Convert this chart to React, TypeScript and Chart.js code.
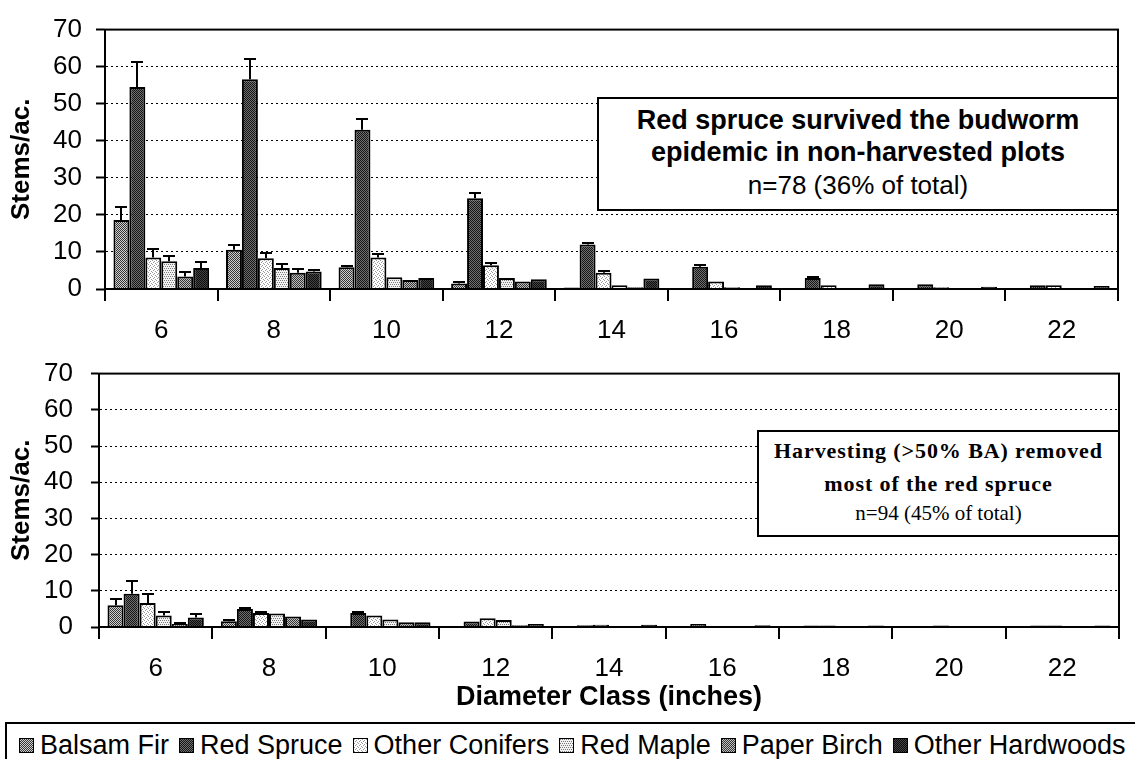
import React, { useEffect, useRef } from 'react';
import { Chart, registerables } from 'chart.js';

Chart.register(...registerables);

// ---------- DATA ----------
const categories = ['6', '8', '10', '12', '14', '16', '18', '20', '22'];
const speciesNames = ['Balsam Fir', 'Red Spruce', 'Other Conifers', 'Red Maple', 'Paper Birch', 'Other Hardwoods'];
const yTickValues = [0, 10, 20, 30, 40, 50, 60, 70];

// Non-harvested plots (stems/ac.)
const nhBalsamFir = [18.6, 10.6, 5.9, 1.5, 0.4, 0.3, 0.3, 0.2, 0.2];
const nhRedSpruce = [54.5, 56.6, 43.0, 24.5, 12.0, 6.0, 3.0, 1.3, 1.0];
const nhOtherConifers = [8.5, 8.3, 8.5, 6.4, 4.4, 2.0, 1.0, 0.5, 1.0];
const nhRedMaple = [7.5, 5.7, 3.2, 3.0, 1.0, 0.5, 0.3, 0.3, 0.2];
const nhPaperBirch = [3.4, 4.4, 2.4, 2.0, 0.5, 0.3, 0.2, 0.2, 0.2];
const nhOtherHardwoods = [5.7, 4.7, 3.0, 2.6, 2.8, 1.0, 1.3, 0.6, 0.8];

const nhBalsamFirErr = [3.6, 1.3, 0.3, 0.3, 0, 0, 0, 0, 0];
const nhRedSpruceErr = [6.7, 5.4, 3.0, 1.5, 0.4, 0.5, 0.3, 0, 0];
const nhOtherConifersErr = [2.4, 1.3, 0.9, 0.5, 0.5, 0, 0, 0, 0];
const nhRedMapleErr = [1.5, 1.0, 0, 0, 0, 0, 0, 0, 0];
const nhPaperBirchErr = [1.3, 1.0, 0, 0, 0, 0, 0, 0, 0];
const nhOtherHardwoodsErr = [1.5, 0.3, 0, 0, 0, 0, 0, 0, 0];

// Harvested plots (stems/ac.)
const hBalsamFir = [6.0, 1.6, 0.3, 0.3, 0.2, 0.2, 0.1, 0.1, 0.1];
const hRedSpruce = [9.2, 5.0, 3.9, 1.5, 0.5, 0.8, 0.4, 0.3, 0.4];
const hOtherConifers = [6.6, 3.9, 3.2, 2.4, 0.6, 0.3, 0.4, 0.4, 0.4];
const hRedMaple = [3.2, 3.7, 2.1, 1.9, 0.3, 0.2, 0.1, 0.1, 0.1];
const hPaperBirch = [0.8, 2.9, 1.3, 0.5, 0.2, 0.1, 0.1, 0.1, 0.1];
const hOtherHardwoods = [2.6, 2.1, 1.3, 0.8, 0.6, 0.5, 0.4, 0.3, 0.4];

const hBalsamFirErr = [1.6, 0.2, 0, 0, 0, 0, 0, 0, 0];
const hRedSpruceErr = [3.4, 0.3, 0.2, 0, 0, 0, 0, 0, 0];
const hOtherConifersErr = [2.6, 0.2, 0, 0, 0, 0, 0, 0, 0];
const hRedMapleErr = [1.0, 0, 0, 0, 0, 0, 0, 0, 0];
const hPaperBirchErr = [0.2, 0, 0, 0, 0, 0, 0, 0, 0];
const hOtherHardwoodsErr = [1.1, 0, 0, 0, 0, 0, 0, 0, 0];

const nhValues = [nhBalsamFir, nhRedSpruce, nhOtherConifers, nhRedMaple, nhPaperBirch, nhOtherHardwoods];
const nhErrors = [nhBalsamFirErr, nhRedSpruceErr, nhOtherConifersErr, nhRedMapleErr, nhPaperBirchErr, nhOtherHardwoodsErr];
const hValues = [hBalsamFir, hRedSpruce, hOtherConifers, hRedMaple, hPaperBirch, hOtherHardwoods];
const hErrors = [hBalsamFirErr, hRedSpruceErr, hOtherConifersErr, hRedMapleErr, hPaperBirchErr, hOtherHardwoodsErr];

// ---------- STYLE ----------
const SANS = '"Liberation Sans", Arial, Helvetica, sans-serif';
const SERIF = '"Liberation Serif", "Times New Roman", serif';

// stipple patterns: [base colour, dot colour, dot mask (4x4)]
const patternSpecs: [string, string, number[]][] = [
  ['#d0d0d0', '#353535', [1,0,1,0, 0,1,0,1, 1,0,1,0, 0,1,0,1]], // Balsam Fir
  ['#707070', '#151515', [1,0,1,0, 0,1,0,1, 1,0,1,0, 0,1,0,1]], // Red Spruce
  ['#ffffff', '#9a9a9a', [1,0,0,0, 0,0,1,0, 0,1,0,0, 0,0,0,1]], // Other Conifers
  ['#f2f2f2', '#7a7a7a', [1,0,1,0, 0,0,0,0, 0,1,0,1, 0,0,0,0]], // Red Maple
  ['#c0c0c0', '#353535', [1,0,1,0, 0,1,0,1, 1,0,1,0, 0,1,0,1]], // Paper Birch
  ['#444444', '#0c0c0c', [1,0,1,0, 0,1,0,1, 1,0,1,0, 0,1,0,1]], // Other Hardwoods
];

function makeTile(spec: [string, string, number[]]): HTMLCanvasElement {
  const c = document.createElement('canvas');
  c.width = 4;
  c.height = 4;
  const ctx = c.getContext('2d')!;
  ctx.fillStyle = spec[0];
  ctx.fillRect(0, 0, 4, 4);
  ctx.fillStyle = spec[1];
  spec[2].forEach((m, i) => {
    if (m) ctx.fillRect(i % 4, Math.floor(i / 4), 1, 1);
  });
  return c;
}

const tiles = patternSpecs.map(makeTile);
const tileUrls = tiles.map((t) => t.toDataURL());

function patterns(ctx: CanvasRenderingContext2D) {
  return tiles.map((t) => ctx.createPattern(t, 'repeat') as CanvasPattern);
}

const errorBarsAndFrame = {
  id: 'errorBarsAndFrame',
  afterDatasetsDraw(chart: any, _args: any, opts: any) {
    const errs: number[][] = opts.errors || [];
    const ctx: CanvasRenderingContext2D = chart.ctx;
    const y = chart.scales.y;
    ctx.save();
    ctx.strokeStyle = '#000';
    ctx.lineWidth = 2;
    chart.data.datasets.forEach((ds: any, i: number) => {
      const meta = chart.getDatasetMeta(i);
      meta.data.forEach((bar: any, j: number) => {
        const e = errs[i] ? errs[i][j] : 0;
        if (!e) return;
        const v = ds.data[j] as number;
        const yTop = Math.round(y.getPixelForValue(v + e));
        const x = Math.round(bar.x);
        ctx.beginPath();
        ctx.moveTo(x, bar.y);
        ctx.lineTo(x, yTop);
        ctx.moveTo(x - 6, yTop);
        ctx.lineTo(x + 6, yTop);
        ctx.stroke();
      });
    });
    const a = chart.chartArea;
    ctx.lineWidth = 2;
    ctx.strokeRect(a.left, a.top, a.right - a.left, a.bottom - a.top);
    ctx.restore();
  },
};

type PanelProps = {
  top: number;
  height: number;
  areaTop: number; // page coords
  areaLeft: number;
  areaRight: number;
  areaBottom: number;
  values: number[][];
  errors: number[][];
  xTitle?: string;
  yTickPad: number;
  yTickLen: number;
};

function Panel(p: PanelProps) {
  const ref = useRef<HTMLCanvasElement | null>(null);
  useEffect(() => {
    const canvas = ref.current!;
    const ctx = canvas.getContext('2d')!;
    const pats = patterns(ctx);
    const aTop = p.areaTop - p.top;
    const aBottom = p.areaBottom - p.top;
    const chart = new Chart(canvas, {
      type: 'bar',
      data: {
        labels: categories,
        datasets: p.values.map((vals, i) => ({
          label: speciesNames[i],
          data: vals,
          backgroundColor: pats[i],
          borderColor: '#000',
          borderWidth: 2,
          categoryPercentage: 0.85,
          barPercentage: 1.0,
        })),
      },
      options: {
        responsive: false,
        animation: false,
        events: [],
        layout: { padding: { top: aTop, left: 0, right: 1135 - p.areaRight, bottom: 0 } },
        plugins: {
          legend: { display: false },
          tooltip: { enabled: false },
          errorBarsAndFrame: { errors: p.errors },
        } as any,
        scales: {
          x: {
            type: 'category',
            offset: true,
            grid: {
              display: true,
              drawOnChartArea: false,
              drawTicks: true,
              tickLength: 12,
              offset: true,
              color: '#000',
              lineWidth: 2,
            },
            border: { display: true, color: '#000', width: 2 },
            ticks: {
              color: '#000',
              padding: 14,
              font: { family: SANS, size: 26 },
              maxRotation: 0,
            },
            title: p.xTitle
              ? {
                  display: true,
                  text: p.xTitle,
                  color: '#000',
                  font: { family: SANS, size: 27, weight: 'bold' },
                  padding: { top: 0, bottom: 6 },
                }
              : { display: false },
            afterFit: (s: any) => {
              s.height = p.height - aBottom;
            },
          },
          y: {
            type: 'linear',
            min: 0,
            max: 70,
            afterBuildTicks: (s: any) => {
              s.ticks = yTickValues.map((v) => ({ value: v }));
            },
            grid: {
              color: '#000',
              lineWidth: 1,
              drawTicks: true,
              tickLength: p.yTickLen,
              tickWidth: 2,
              tickBorderDash: [],
            },
            border: { display: true, color: '#000', width: 2, dash: [2, 3] },
            ticks: {
              color: '#000',
              padding: p.yTickPad,
              font: { family: SANS, size: 26 },
            },
            title: {
              display: true,
              text: 'Stems/ac.',
              color: '#000',
              font: { family: SANS, size: 26, weight: 'bold' },
              padding: { top: 6, bottom: 0 },
            },
            afterFit: (s: any) => {
              s.width = p.areaLeft;
            },
          },
        },
      } as any,
      plugins: [errorBarsAndFrame as any],
    });
    return () => chart.destroy();
  }, []);
  return (
    <canvas
      ref={ref}
      width={1135}
      height={p.height}
      style={{ position: 'absolute', left: 0, top: p.top, width: 1135, height: p.height }}
    />
  );
}

const lineStyle = (top: number, size: number, bold: boolean, spacing = 0): React.CSSProperties => ({
  position: 'absolute',
  left: 0,
  right: 0,
  top,
  fontSize: size,
  lineHeight: `${size}px`,
  fontWeight: bold ? 'bold' : 'normal',
  letterSpacing: spacing,
  whiteSpace: 'nowrap',
});

export default function App() {
  return (
    <div
      style={{
        position: 'fixed',
        left: 0,
        top: 0,
        width: 1135,
        height: 759,
        overflow: 'hidden',
        background: '#fff',
      }}
    >
      <Panel
        top={0}
        height={350}
        areaTop={20}
        areaLeft={105}
        areaRight={1118}
        areaBottom={289}
        values={nhValues}
        errors={nhErrors}
        yTickPad={14}
        yTickLen={9}
      />
      <Panel
        top={340}
        height={380}
        areaTop={367}
        areaLeft={99}
        areaRight={1119}
        areaBottom={627}
        values={hValues}
        errors={hErrors}
        xTitle="Diameter Class (inches)"
        yTickPad={18}
        yTickLen={8}
      />
      {/* annotation: non-harvested */}
      <div
        style={{
          position: 'absolute',
          left: 597,
          top: 97,
          width: 522,
          height: 114,
          boxSizing: 'border-box',
          border: '2px solid #000',
          background: '#fff',
          fontFamily: SANS,
          color: '#000',
          textAlign: 'center',
        }}
      >
        <div style={lineStyle(8, 27, true)}>Red spruce survived the budworm</div>
        <div style={lineStyle(40, 27, true)}>epidemic in non-harvested plots</div>
        <div style={lineStyle(73, 26, false)}>n=78 (36% of total)</div>
      </div>
      {/* annotation: harvested */}
      <div
        style={{
          position: 'absolute',
          left: 757,
          top: 430,
          width: 363,
          height: 107,
          boxSizing: 'border-box',
          border: '2px solid #000',
          background: '#fff',
          fontFamily: SERIF,
          color: '#000',
          textAlign: 'center',
        }}
      >
        <div style={lineStyle(8, 22, true, 0.9)}>Harvesting (&gt;50% BA) removed</div>
        <div style={lineStyle(41, 22, true, 0.9)}>most of the red spruce</div>
        <div style={lineStyle(71, 21, false)}>n=94 (45% of total)</div>
      </div>
      {/* legend */}
      <div
        style={{
          position: 'absolute',
          left: 5,
          top: 722,
          width: 1150,
          height: 60,
          boxSizing: 'border-box',
          border: '2px solid #000',
          background: '#fff',
          fontFamily: SANS,
          fontSize: 27,
          color: '#000',
          display: 'flex',
          alignItems: 'flex-start',
          paddingLeft: 12,
          paddingTop: 7,
          whiteSpace: 'nowrap',
        }}
      >
        {speciesNames.map((n, i) => (
          <div key={n} style={{ display: 'flex', alignItems: 'center', marginRight: 10, lineHeight: '28px' }}>
            <span
              style={{
                display: 'inline-block',
                width: 15,
                height: 15,
                boxSizing: 'border-box',
                border: '1.5px solid #000',
                backgroundImage: `url(${tileUrls[i]})`,
                marginRight: 6,
              }}
            />
            <span>{n}</span>
          </div>
        ))}
      </div>
    </div>
  );
}
